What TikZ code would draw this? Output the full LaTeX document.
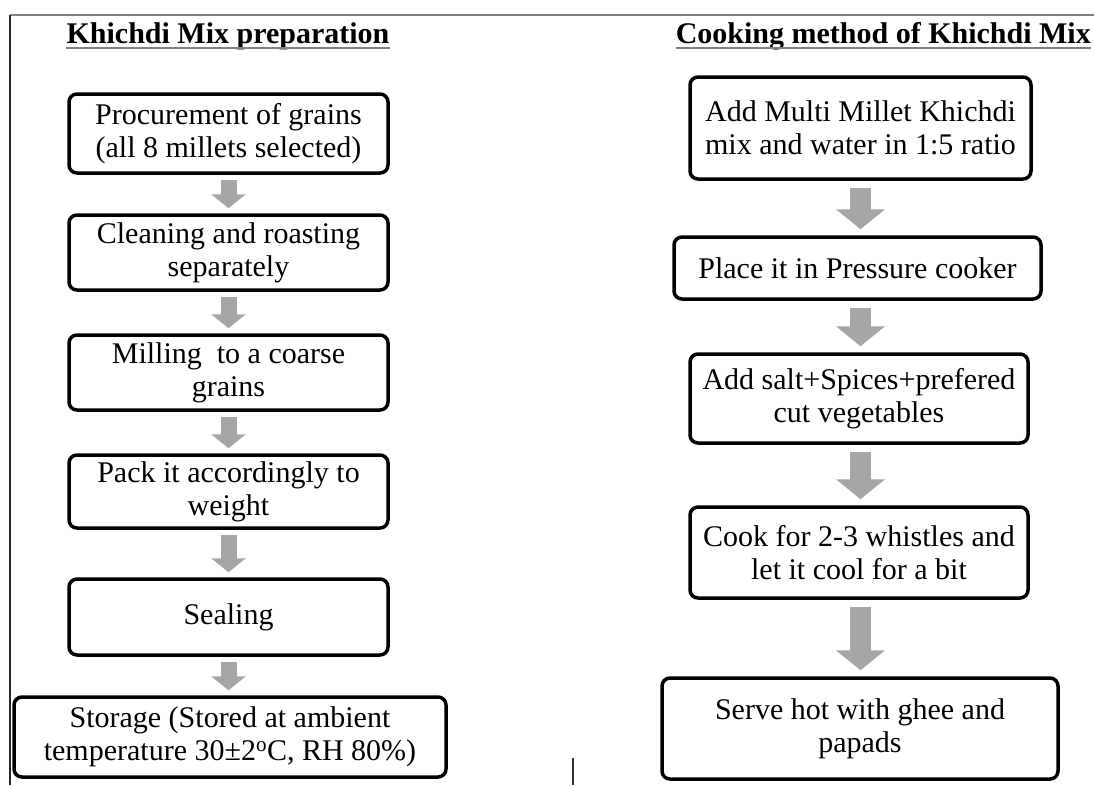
\documentclass[tikz,border=0pt]{standalone}
\usepackage{fontspec}
\setmainfont{Liberation Serif}
\usepackage{tikz}
\usetikzlibrary{arrows.meta}
\usepackage{xcolor}
\definecolor{clarrow}{gray}{0.65}
\definecolor{clrule}{gray}{0.5}
\tikzstyle{stepbox} = [rectangle, draw, line width=3.5pt, rounded corners=8pt, align=center, inner sep=0pt, font=\fontsize{30}{33}\selectfont]
\tikzstyle{heading} = [inner sep=0pt, font=\fontsize{30}{32}\selectfont\bfseries]
\tikzstyle{smallflow} = [draw=clarrow, line width=16pt, -{Triangle[length=14pt, width=34pt]}, shorten <=5pt, shorten >=5pt]
\tikzstyle{bigflow} = [draw=clarrow, line width=21pt, -{Triangle[length=20pt, width=48pt]}, shorten <=7pt, shorten >=6pt]
\tikzstyle{frame} = [draw=clrule, line width=1.5pt]
\begin{document}
\begin{tikzpicture}[x=1pt, y=-1pt]
    \useasboundingbox (0,0) rectangle (1094,785);

    % page rules
    \path [frame] (10,15) -- (1094,15);
    \path [frame, draw=black!85] (10,15) -- (10,785);
    \draw [line width=1.5pt, black!80] (573,758) -- (573,785);

    \node [heading, anchor=base] (prephead) at (228,43) {Khichdi Mix preparation};
    \node [heading, anchor=base east] (cookhead) at (1091,43) {Cooking method of Khichdi Mix};
    \draw [draw=clrule, line width=2pt] ([yshift=-5pt]prephead.base west) -- ([yshift=-5pt]prephead.base east);
    \draw [draw=clrule, line width=2pt] ([yshift=-5pt]cookhead.base west) -- ([yshift=-5pt]cookhead.base east);

    % preparation
    \node [stepbox, minimum width=319pt, minimum height=79pt] (procure) at (228.5,133.5) {Procurement of grains\\(all 8 millets selected)};
    \node [stepbox, minimum width=319pt, minimum height=75pt] (clean) at (228.5,252.5) {Cleaning and roasting\\separately};
    \node [stepbox, minimum width=319pt, minimum height=75pt] (mill) at (228.5,372.5) {Milling\ \ to a coarse\\grains};
    \node [stepbox, minimum width=319pt, minimum height=73pt] (pack) at (228.5,491.5) {Pack it accordingly to\\weight};
    \node [stepbox, minimum width=319pt, minimum height=76pt] (seal) at (228.5,617) {Sealing};
    \node [stepbox, minimum width=432pt, minimum height=80pt] (store) at (230,737) {Storage (Stored at ambient\\temperature 30±2\textsuperscript{o}C, RH 80\%)};

    % cooking
    \node [stepbox, minimum width=341pt, minimum height=102pt] (addmix) at (860.5,128) {Add Multi Millet Khichdi\\mix and water in 1:5 ratio};
    \node [stepbox, minimum width=367pt, minimum height=62pt] (cooker) at (857.5,268) {Place it in Pressure cooker};
    \node [stepbox, minimum width=338pt, minimum height=89pt] (spice) at (859,398.5) {Add salt+Spices+prefered\\cut vegetables};
    \node [stepbox, minimum width=338pt, minimum height=91pt] (whistle) at (859,552.5) {Cook for 2-3 whistles and\\let it cool for a bit};
    \node [stepbox, minimum width=396pt, minimum height=101pt] (serve) at (860,728.5) {Serve hot with ghee and\\papads};

    \path [smallflow] (procure.south) -- (procure.south |- clean.north);
    \path [smallflow] (clean.south) -- (clean.south |- mill.north);
    \path [smallflow] (mill.south) -- (mill.south |- pack.north);
    \path [smallflow] (pack.south) -- (pack.south |- seal.north);
    \path [smallflow] (seal.south) -- (seal.south |- store.north);

    \path [bigflow] (addmix.south) -- (addmix.south |- cooker.north);
    \path [bigflow] (addmix.south |- cooker.south) -- (addmix.south |- spice.north);
    \path [bigflow] (addmix.south |- spice.south) -- (addmix.south |- whistle.north);
    \path [bigflow] (addmix.south |- whistle.south) -- (addmix.south |- serve.north);
\end{tikzpicture}
\end{document}
